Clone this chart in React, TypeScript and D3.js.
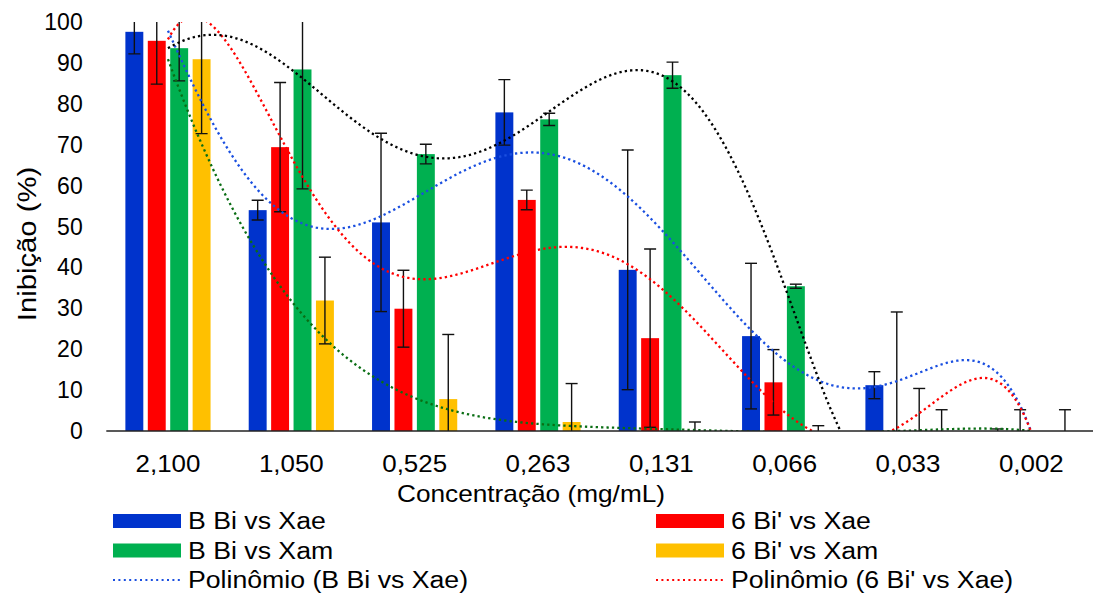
import React from 'react';
import * as d3 from 'd3';

const categories = ['2,100', '1,050', '0,525', '0,263', '0,131', '0,066', '0,033', '0,002'];
const seriesNames = ['B Bi vs Xae', "6 Bi' vs Xae", 'B Bi vs Xam', "6 Bi' vs Xam"];
const seriesColors = ['#0033CC', '#FF0000', '#00B050', '#FFC000'];

const bBiXae: (number | null)[] = [97.6, 54.0, 51.0, 77.9, 39.4, 23.2, 11.2, 0];
const bBiXaeErr = [5.4, 2.4, 21.8, 8.0, 29.3, 17.8, 3.3, 0.5];
const sixBiXae: (number | null)[] = [95.4, 69.4, 29.9, 56.5, 22.7, 11.9, 0, 0];
const sixBiXaeErr = [10.6, 15.8, 9.4, 2.4, 21.8, 8.0, 29.1, 5.2];
const bBiXam: (number | null)[] = [93.6, 88.4, 67.7, 76.2, 87.0, 35.4, 0, null];
const bBiXamErr = [8.0, 29.2, 2.4, 1.5, 3.2, 0.5, 10.4, 0];
const sixBiXam: (number | null)[] = [90.9, 31.9, 7.8, 2.2, 0, 0, 0, 0];
const sixBiXamErr = [18.2, 10.6, 15.8, 9.4, 2.2, 1.3, 5.2, 5.2];

const yTicks = [0, 10, 20, 30, 40, 50, 60, 70, 80, 90, 100];
const trendColors = ['#1a4fe0', '#FF0000', '#000000', '#0a6e14'];
const polyOrder = 6;

const values = [bBiXae, sixBiXae, bBiXam, sixBiXam];
const errors = [bBiXaeErr, sixBiXaeErr, bBiXamErr, sixBiXamErr];

function polyfit(pts: [number, number][], order: number) {
  const n = pts.length;
  const xsRaw = pts.map((p) => p[0]);
  const ys = pts.map((p) => p[1]);
  const lo = d3.min(xsRaw)!;
  const hi = d3.max(xsRaw)!;
  const c = (lo + hi) / 2;
  const s = (hi - lo) / 2 || 1;
  const xs = xsRaw.map((x) => (x - c) / s);
  const m = Math.min(order, n - 1) + 1;
  const A: number[][] = [];
  for (let r = 0; r < m; r++) {
    const row: number[] = [];
    for (let k = 0; k < m; k++) {
      row.push(d3.sum(xs, (x) => Math.pow(x, r + k)));
    }
    row.push(d3.sum(xs.map((x, i) => Math.pow(x, r) * ys[i])));
    A.push(row);
  }
  for (let i = 0; i < m; i++) {
    let p = i;
    for (let r = i + 1; r < m; r++) if (Math.abs(A[r][i]) > Math.abs(A[p][i])) p = r;
    [A[i], A[p]] = [A[p], A[i]];
    for (let r = 0; r < m; r++) {
      if (r === i) continue;
      const f = A[r][i] / A[i][i];
      for (let k = i; k <= m; k++) A[r][k] -= f * A[i][k];
    }
  }
  const coef = A.map((row, i) => row[m] / row[i]);
  return {
    lo,
    hi,
    f: (x: number) => {
      const t = (x - c) / s;
      let v = 0;
      for (let i = m - 1; i >= 0; i--) v = v * t + coef[i];
      return v;
    },
  };
}

const W = 1094;
const H = 594;
const left = 106.3;
const right = 1093;
const top = 22;
const bottom = 431;
const FONT = "'Liberation Sans', Arial, sans-serif";

export default function App() {
  const x0 = d3.scaleBand<string>().domain(categories).range([left, right]).paddingInner(0.273).paddingOuter(0.1365);
  const x1 = d3.scaleBand<string>().domain(seriesNames).range([0, x0.bandwidth()]).paddingInner(0.2).paddingOuter(0.1);
  const y = d3.scaleLinear().domain([0, 100]).range([bottom, top]);
  const xc = d3
    .scaleLinear()
    .domain([1, categories.length])
    .range([x0(categories[0])! + x0.bandwidth() / 2, x0(categories[categories.length - 1])! + x0.bandwidth() / 2]);

  const line = d3
    .line<[number, number]>()
    .x((d) => xc(d[0]))
    .y((d) => y(d[1]));

  const trends = values.map((vals) => {
    const pts = vals
      .map((v, i) => [i + 1, v] as [number, number | null])
      .filter((p) => p[1] !== null) as [number, number][];
    const fit = polyfit(pts, polyOrder);
    const samples = d3.range(fit.lo, fit.hi + 0.0001, 0.02);
    return line(samples.map((t) => [t, fit.f(t)] as [number, number]));
  });

  const legendItems = [
    { kind: 'bar', color: seriesColors[0], label: seriesNames[0], x: 113, row: 0 },
    { kind: 'bar', color: seriesColors[1], label: seriesNames[1], x: 656, row: 0 },
    { kind: 'bar', color: seriesColors[2], label: seriesNames[2], x: 113, row: 1 },
    { kind: 'bar', color: seriesColors[3], label: seriesNames[3], x: 656, row: 1 },
    { kind: 'line', color: trendColors[0], label: `Polinômio (${seriesNames[0]})`, x: 113, row: 2 },
    { kind: 'line', color: trendColors[1], label: `Polinômio (${seriesNames[1]})`, x: 656, row: 2 },
  ];
  const rowY = [521, 550.5, 580];

  return (
    <svg width={W} height={H} style={{ position: 'absolute', left: 0, top: 0, background: '#fff' }} fontFamily={FONT}>
      <defs>
        <clipPath id="plotClip">
          <rect x={left} y={top} width={right - left} height={bottom - top} />
        </clipPath>
      </defs>
      <rect x={0} y={0} width={W} height={H} fill="#fff" />

      {/* y tick labels */}
      {yTicks.map((t) => (
        <text key={t} x={82.7} y={y(t) + 8} textAnchor="end" fontSize={23} fill="#000">
          {t}
        </text>
      ))}

      {/* bars */}
      {categories.map((cat, ci) => (
        <g key={cat} transform={`translate(${x0(cat)},0)`}>
          {seriesNames.map((sn, si) => {
            const v = values[si][ci];
            if (v === null || v <= 0) return null;
            return (
              <rect
                key={sn}
                x={x1(sn)}
                y={y(v)}
                width={x1.bandwidth()}
                height={y(0) - y(v)}
                fill={seriesColors[si]}
              />
            );
          })}
        </g>
      ))}

      {/* error bars */}
      <g clipPath="url(#plotClip)">
        {categories.map((cat, ci) =>
          seriesNames.map((sn, si) => {
            const v = values[si][ci];
            const e = errors[si][ci];
            if (v === null || !e) return null;
            const cx = x0(cat)! + x1(sn)! + x1.bandwidth() / 2;
            const hi = v + e;
            const lo = v - e;
            return (
              <g key={cat + sn} stroke="#111" strokeWidth={1.4}>
                <line x1={cx} x2={cx} y1={y(Math.min(hi, 100))} y2={y(Math.max(lo, 0))} />
                {hi <= 100 && <line x1={cx - 6} x2={cx + 6} y1={y(hi)} y2={y(hi)} />}
                {lo >= 0 && <line x1={cx - 6} x2={cx + 6} y1={y(lo)} y2={y(lo)} />}
              </g>
            );
          })
        )}
      </g>

      {/* trend lines */}
      <g clipPath="url(#plotClip)" fill="none">
        {trends.map((d, i) => (
          <path key={i} d={d || ''} stroke={trendColors[i]} strokeWidth={2.3} strokeDasharray="2.3 3.1" />
        ))}
      </g>

      {/* x axis */}
      <line x1={left} x2={right} y1={bottom} y2={bottom} stroke="#222" strokeWidth={1.6} />
      {categories.map((cat) => (
        <text
          key={cat}
          transform={`translate(${x0(cat)! + x0.bandwidth() / 2},472) scale(1.08,1)`}
          textAnchor="middle"
          fontSize={24}
          fill="#000"
        >
          {cat}
        </text>
      ))}

      {/* axis titles */}
      <text transform={`translate(531,502) scale(1.14,1)`} textAnchor="middle" fontSize={23} fill="#000">
        Concentração (mg/mL)
      </text>
      <text transform={`translate(36,244) rotate(-90) scale(1.17,1)`} textAnchor="middle" fontSize={25} fill="#000">
        Inibição (%)
      </text>

      {/* legend */}
      {legendItems.map((it, i) => (
        <g key={i}>
          {it.kind === 'bar' ? (
            <rect x={it.x} y={rowY[it.row] - 7} width={68} height={14} fill={it.color} />
          ) : (
            <line
              x1={it.x}
              x2={it.x + 68}
              y1={rowY[it.row]}
              y2={rowY[it.row]}
              stroke={it.color}
              strokeWidth={2}
              strokeDasharray="2 3.4"
            />
          )}
          <text
            transform={`translate(${it.x + 75},${rowY[it.row] + 8}) scale(1.16,1)`}
            fontSize={23}
            fill="#000"
          >
            {it.label}
          </text>
        </g>
      ))}
    </svg>
  );
}
